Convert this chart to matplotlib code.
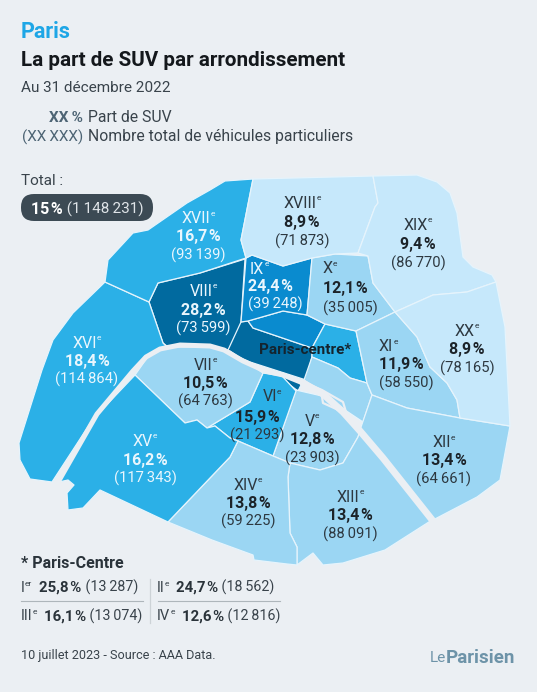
import matplotlib
matplotlib.use('Agg')
import matplotlib.pyplot as plt
from matplotlib.patches import Polygon, FancyBboxPatch

BG = '#ebeff3'
THIN = '\u2009'
HAIR = '\u200a'
plt.rcParams['font.family'] = ['Roboto', 'DejaVu Sans']

# values
arr_names = ['VI', 'VII', 'VIII', 'IX', 'X', 'XI', 'XII', 'XIII', 'XIV', 'XV', 'XVI', 'XVII', 'XVIII', 'XIX', 'XX', 'V']
arr_share = [15.9, 10.5, 28.2, 24.4, 12.1, 11.9, 13.4, 13.4, 13.8, 16.2, 18.4, 16.7, 8.9, 9.4, 8.9, 12.8]
arr_cars = [21293, 64763, 73599, 39248, 35005, 58550, 64661, 88091, 59225, 117343, 114864, 93139, 71873, 86770, 78165, 23903]

centre_names = ['I', 'II', 'III', 'IV']
centre_sup = ['er', 'e', 'e', 'e']
centre_share = [25.8, 24.7, 16.1, 12.6]
centre_cars = [13287, 18562, 13074, 12816]

total_share = 15
total_cars = 1148231

# colour classes of the map
class_limits = [10, 15, 20, 25]
class_colors = ['#c6e8fb', '#9bd6f3', '#2bb0e7', '#0a8bcf', '#016a9f']

# outlines (image pixels)
outlines = {
    'I': [(240,322),(248,321),(253,328),(312,348),(312,357),(306,380),(250,362),(225,351),(228,348)],
    'I2': [(280,375),(303,381),(298,391),(290,385)],
    'II': [(248,321),(283,311),(307,315),(325,324),(312,348),(253,328)],
    'III': [(325,324),(356,331),(367,383),(350,378),(338,368),(312,357),(312,348)],
    'IV': [(312,357),(338,368),(350,378),(367,383),(372,395),(363,422),(345,410),(322,392),(304,380)],
    'V': [(296,390),(322,396),(345,412),(360,432),(358,437),(343,463),(320,470),(290,463),(273,456)],
    'VI': [(263,373),(282,376),(296,391),(273,456),(238,441),(230,438),(215,426),(207,428),(250,402)],
    'VII': [(135,375),(147,358),(160,350),(167,347),(213,346),(230,351),(263,373),(250,402),(207,428),(197,420),(185,423)],
    'VIII': [(245,259),(241,322),(228,350),(213,347),(168,347),(163,343),(149,302),(158,283),(200,273)],
    'IX': [(246,258),(252,255),(283,266),(312,258),(307,315),(283,311),(248,321),(241,322)],
    'X': [(312,258),(335,254),(368,256),(373,283),(395,312),(356,331),(325,324),(307,315)],
    'XI': [(395,312),(417,337),(430,367),(447,383),(457,400),(460,418),(407,408),(372,395),(367,383),(356,331)],
    'XII': [(372,395),(407,408),(460,418),(510,426),(500,480),(477,497),(433,520),(360,430)],
    'XIII': [(290,463),(320,470),(343,463),(358,437),(360,430),(432,520),(385,550),(343,563),(323,565),(313,553),(297,565),(297,547),(290,533),(288,477)],
    'XIV': [(238,441),(273,456),(290,463),(288,477),(290,533),(297,547),(297,565),(287,564),(254,560),(253,555),(212,540),(168,522),(230,457)],
    'XV': [(135,375),(185,423),(197,420),(207,428),(215,426),(230,438),(238,441),(230,457),(168,522),(100,490),(83,508),(68,510),(67,493),(74,485),(68,480),(59,482),(97,415)],
    'XVI': [(105,282),(149,302),(163,343),(167,347),(147,357),(133,370),(97,413),(52,482),(30,479),(20,460),(19,443),(42,370),(53,340),(73,313)],
    'XVII': [(225,181),(253,179),(241,240),(246,258),(200,273),(158,283),(149,302),(105,282),(108,260),(133,233),(148,230),(187,203),(210,190)],
    'XVIII': [(253,179),(373,176),(378,203),(375,207),(358,253),(335,254),(312,258),(283,266),(252,255),(246,258),(241,240)],
    'XIX': [(373,176),(417,175),(437,182),(450,193),(457,213),(463,257),(473,267),(492,275),(496,282),(467,292),(433,295),(395,312),(373,283),(368,256),(358,253),(375,207),(378,203)],
    'XX': [(496,282),(505,327),(510,426),(460,418),(457,400),(447,383),(430,367),(417,337),(395,312),(433,295),(467,292)],
}
seine_west = [(57,484),(97,414),(133,371),(146,357),(160,349),(180,345),(210,346),(224,350),(243,361),(265,371),(283,375),(303,383)]
seine_east = [(303,383),(323,394),(343,412),(360,431),(383,458),(433,521)]
seine_arm = [(303,382),(322,390),(343,402),(346,412)]
seine_arm2 = [(321,391),(323,403),(345,413)]

# label anchors: x of the name, x of the numbers, y of the three rows, alignment
label_pos = {
    'V': (312,312,420,438,457,'center'), 'VI': (272,257,395,416,434,'center'), 'VII': (205,205,364,382,400,'center'),
    'VIII': (203,203,290,309,327,'center'), 'IX': (250,248,268,285,303,'left'), 'X': (323,323,267,287,307,'left'),
    'XI': (379,379,345,363,382,'left'), 'XII': (444,444,441,459,478,'center'), 'XIII': (350,350,496,514,533,'center'),
    'XIV': (248,248,484,502,520,'center'), 'XV': (145,145,440,459,477,'center'), 'XVI': (87,87,342,360,378,'center'),
    'XVII': (198,198,217,235,254,'center'), 'XVIII': (302,302,202,221,240,'center'), 'XIX': (418,418,224,243,262,'center'),
    'XX': (467,467,330,348,367,'center'),
}


def share_color(v):
    for lim, col in zip(class_limits, class_colors):
        if v < lim:
            return col
    return class_colors[-1]


def fmt_share(v):
    return f'{v:.1f}'.replace('.', ',')


def fmt_cars(n):
    return f'{n:,}'.replace(',', THIN)


fig = plt.figure(figsize=(5.37, 6.92), dpi=100, facecolor=BG)
ax = fig.add_axes([0, 0, 1, 1])
ax.set_xlim(0, 537)
ax.set_ylim(692, 0)
ax.axis('off')


def runs(x, y, parts, ha='left'):
    # parts: (text, size, weight, colour, raise in px)
    r = fig.canvas.get_renderer()
    objs = []
    for txt, size, weight, col, up in parts:
        t = ax.text(0, y - up, txt, fontsize=size, fontweight=weight, color=col,
                    va='center_baseline', ha='left')
        objs.append(t)
    widths = [o.get_window_extent(r).width for o in objs]
    total = sum(widths)
    cur = x
    if ha == 'center':
        cur = x - total / 2
    if ha == 'right':
        cur = x - total
    for o, w in zip(objs, widths):
        o.set_x(cur)
        cur += w
    return cur


# map
all_share = dict(zip(arr_names, arr_share))
all_share.update(dict(zip(centre_names, centre_share)))
all_share['I2'] = centre_share[0]
for name, pts in outlines.items():
    ax.add_patch(Polygon(pts, closed=True, facecolor=share_color(all_share[name]),
                         edgecolor='#e6f4fc', lw=0.9, joinstyle='round'))
ax.plot(*zip(*seine_west), color=BG, lw=3.6, solid_capstyle='round', solid_joinstyle='round')
ax.plot(*zip(*seine_east), color=BG, lw=5, solid_capstyle='round', solid_joinstyle='round')
ax.plot(*zip(*seine_arm), color=BG, lw=1.6)
ax.plot(*zip(*seine_arm2), color=BG, lw=1.6)

# labels on the map
for name, share, cars in zip(arr_names, arr_share, arr_cars):
    x1, x2, y1, y2, y3, ha = label_pos[name]
    if share >= 15 and name != 'VI':
        c1 = c2 = '#eaf6fd'
    else:
        c1, c2 = '#2d3840', '#1c2329'
    runs(x1, y1, [(name, 11.5, 'normal', c1, 0), ('e', 6, 'normal', c1, 4)], ha)
    runs(x2, y2, [(fmt_share(share) + HAIR + '%', 11.5, 'bold', c2, 0)], ha)
    runs(x2, y3, [('(' + fmt_cars(cars) + ')', 10.6, 'normal', c1, 0)], ha)
ax.text(305, 350, 'Paris-centre*', fontsize=11, fontweight='bold', color='#14242e', ha='center', va='center')

# header
ax.text(21, 32, 'Paris', fontsize=15.5, fontweight='bold', color='#1ea6e6', va='center')
ax.text(21, 60, 'La part de SUV par arrondissement', fontsize=14.9, fontweight='bold', color='#14181c', va='center')
ax.text(21, 88, 'Au 31 décembre 2022', fontsize=11, color='#39434b', va='center')
ax.text(83, 118, 'XX' + THIN + '%', fontsize=11, fontweight='bold', color='#4d6474', ha='right', va='center')
ax.text(83, 137, '(XX' + THIN + 'XXX)', fontsize=11, color='#4d6474', ha='right', va='center')
ax.text(88, 118, 'Part de SUV', fontsize=11.3, color='#39434b', va='center')
ax.text(88, 137, 'Nombre total de véhicules particuliers', fontsize=11.3, color='#39434b', va='center')

# total
ax.text(21, 181, 'Total :', fontsize=11, color='#39434b', va='center')
ax.add_patch(FancyBboxPatch((21, 194), 132, 27, boxstyle='round,pad=0,rounding_size=13', facecolor='#3c4a54', edgecolor='none'))
runs(87, 208, [(f'{total_share}' + HAIR + '%', 11.5, 'bold', '#ffffff', 0),
               (' (' + fmt_cars(total_cars) + ')', 11, 'normal', '#dfe4e8', 0)], 'center')

# Paris-centre table
ax.text(21, 564, '* Paris-Centre', fontsize=11.5, fontweight='bold', color='#2a333a', va='center')
table_x = [21, 157, 21, 157]
table_y = [586, 586, 615, 615]
for name, sup, share, cars, x, y in zip(centre_names, centre_sup, centre_share, centre_cars, table_x, table_y):
    runs(x, y, [(name, 10.5, 'normal', '#39434b', 0), (sup, 6, 'normal', '#39434b', 3),
                ('  ', 10.5, 'normal', '#39434b', 0),
                (fmt_share(share) + HAIR + '%', 10.8, 'bold', '#2a333a', 0),
                (' (' + fmt_cars(cars) + ')', 10.3, 'normal', '#39434b', 0)])
ax.plot([21, 143], [601, 601], color='#aeb6bb', lw=0.8)
ax.plot([158, 280], [601, 601], color='#aeb6bb', lw=0.8)
ax.plot([150, 150], [579, 623], color='#cdd3d7', lw=0.9)

# footer
ax.text(21, 655, '10 juillet 2023 - Source : AAA Data.', fontsize=9.1, color='#39434b', va='center')
runs(515, 656, [('Le', 11, 'normal', '#6d93a8', 0), ('Parisien', 13.5, 'bold', '#6d93a8', 0)], 'right')

fig.savefig('out.png', dpi=100, facecolor=BG)
